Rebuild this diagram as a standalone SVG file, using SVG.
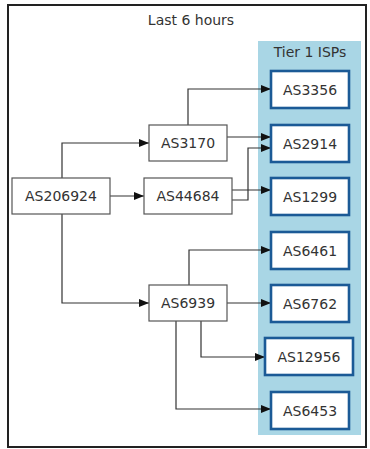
<svg xmlns="http://www.w3.org/2000/svg" width="370" height="449" viewBox="0 0 370 449">
<style>
text{font-family:"DejaVu Sans",sans-serif;font-size:14px;fill:#333;text-anchor:middle;dominant-baseline:central}
.n{fill:#fff;stroke:#555;stroke-width:1.2}
.t{fill:#fff;stroke:#1b5a96;stroke-width:2.6}
.e{fill:none;stroke:#333;stroke-width:1.2}
</style>
<defs>
<marker id="a" markerWidth="10" markerHeight="8" refX="10" refY="4" orient="auto" markerUnits="userSpaceOnUse">
<path d="M0,0 L10,4 L0,8 Z" fill="#111"/>
</marker>
</defs>
<rect x="8" y="5" width="358" height="442" fill="#fff" stroke="#222" stroke-width="2"/>
<text x="191" y="20">Last 6 hours</text>
<g id="cluster">
<rect x="258" y="41" width="103" height="394" fill="#a9d6e5"/>
<text x="310" y="52">Tier 1 ISPs</text>
</g>
<g id="edges">
<path class="e" marker-end="url(#a)" d="M62,178 V143 H149"/>
<path class="e" marker-end="url(#a)" d="M110,196 H144"/>
<path class="e" marker-end="url(#a)" d="M62,214 V303 H149"/>
<path class="e" marker-end="url(#a)" d="M188,125 V89 H271"/>
<path class="e" marker-end="url(#a)" d="M227,137 H271"/>
<path class="e" marker-end="url(#a)" d="M232,200 H248 V148 H271"/>
<path class="e" marker-end="url(#a)" d="M232,190 H271"/>
<path class="e" marker-end="url(#a)" d="M189,285 V250 H271"/>
<path class="e" marker-end="url(#a)" d="M227,303 H271"/>
<path class="e" marker-end="url(#a)" d="M201,321 V357 H265"/>
<path class="e" marker-end="url(#a)" d="M176,321 V409 H271"/>
</g>
<g id="AS206924"><rect class="n" x="12" y="178" width="98" height="36"/><text x="61" y="196">AS206924</text></g>
<g id="AS3170"><rect class="n" x="149" y="125" width="78" height="36"/><text x="188" y="143">AS3170</text></g>
<g id="AS44684"><rect class="n" x="144" y="178" width="88" height="36"/><text x="188" y="196">AS44684</text></g>
<g id="AS6939"><rect class="n" x="149" y="285" width="78" height="36"/><text x="188" y="303">AS6939</text></g>
<g id="AS3356"><rect class="t" x="271" y="71" width="78" height="37"/><text x="310" y="89.5">AS3356</text></g>
<g id="AS2914"><rect class="t" x="271" y="125" width="78" height="37"/><text x="310" y="143.5">AS2914</text></g>
<g id="AS1299"><rect class="t" x="271" y="178" width="78" height="37"/><text x="310" y="196.5">AS1299</text></g>
<g id="AS6461"><rect class="t" x="271" y="232" width="78" height="37"/><text x="310" y="250.5">AS6461</text></g>
<g id="AS6762"><rect class="t" x="271" y="285" width="78" height="37"/><text x="310" y="303.5">AS6762</text></g>
<g id="AS12956"><rect class="t" x="265" y="338" width="88" height="37"/><text x="309" y="356.5">AS12956</text></g>
<g id="AS6453"><rect class="t" x="271" y="392" width="78" height="37"/><text x="310" y="410.5">AS6453</text></g>
</svg>
